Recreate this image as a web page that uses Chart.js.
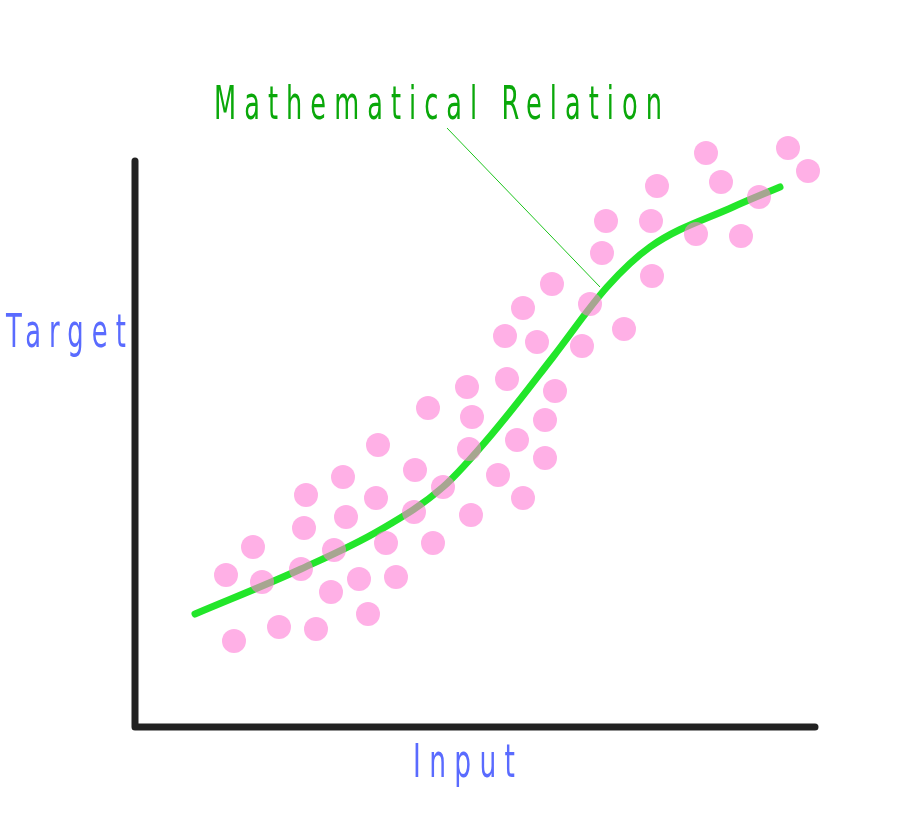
<!DOCTYPE html>
<html>
<head>
<meta charset="utf-8">
<script src="https://cdn.jsdelivr.net/npm/chart.js@4/dist/chart.umd.min.js"></script>
<style>
  html, body { margin: 0; padding: 0; background: #fff; }
  #chart { display: block; }
</style>
</head>
<body>
<canvas id="chart" width="900" height="837"></canvas>
<script>
// scattered samples (input, target)
const inputX = [99, 144, 181, 233, 91, 127, 166, 196, 224, 261, 118, 199, 251, 298,
  169, 211, 279, 336, 171, 208, 241, 280, 308, 243, 334, 337, 293, 332, 372, 420, 410,
  382, 410, 363, 388, 370, 402, 388, 417, 455, 447, 489, 467, 471, 516, 517, 522, 571,
  586, 561, 606, 624, 653, 673];
const targetY = [86, 100, 98, 113, 152, 145, 158, 135, 148, 150, 180, 177, 184, 184,
  199, 210, 215, 212, 232, 250, 229, 257, 240, 282, 278, 310, 319, 340, 348, 336, 307,
  287, 269, 252, 229, 391, 385, 419, 443, 423, 381, 398, 474, 506, 506, 451, 541, 574,
  545, 493, 491, 530, 579, 556];

// fitted relation curve
const curveX = [60, 166, 245, 308, 362, 418, 472, 515, 598, 645];
const curveY = [113, 158, 197, 240, 299, 370, 440, 480, 520, 540];

const axisMax = { x: 680, y: 569 };
const calloutFrom = { x: 312, y: 599 };
const calloutTo = { x: 465, y: 440 };

const toPoints = (xs, ys) => xs.map((x, i) => ({ x: x, y: ys[i] }));

// draw text condensed + letter spaced, stretched to a given width
function fitText(ctx, text, left, right, baseline, color) {
  const spacing = 13;
  ctx.save();
  ctx.font = '46px "Liberation Sans Narrow", "DejaVu Sans Condensed", "Liberation Sans", sans-serif';
  ctx.letterSpacing = spacing + 'px';
  const w = ctx.measureText(text).width - spacing;
  ctx.translate(left, baseline);
  ctx.scale((right - left) / w, 1);
  ctx.fillStyle = color;
  ctx.textBaseline = 'alphabetic';
  ctx.fillText(text, 0, 0);
  ctx.restore();
}

const sketchPlugin = {
  id: 'sketch',
  beforeDatasetsDraw(chart) {
    const { ctx, scales: { x, y } } = chart;
    //axes
    ctx.save();
    ctx.strokeStyle = '#222';
    ctx.lineWidth = 7;
    ctx.lineCap = 'round';
    ctx.lineJoin = 'round';
    ctx.beginPath();
    ctx.moveTo(x.getPixelForValue(0), y.getPixelForValue(axisMax.y - 3));
    ctx.lineTo(x.getPixelForValue(0), y.getPixelForValue(0));
    ctx.lineTo(x.getPixelForValue(axisMax.x), y.getPixelForValue(0));
    ctx.stroke();
    ctx.restore();
  },
  afterDraw(chart) {
    const { ctx, scales: { x, y } } = chart;
    //callout line
    ctx.save();
    ctx.strokeStyle = '#1cc41c';
    ctx.lineWidth = 1;
    ctx.beginPath();
    ctx.moveTo(x.getPixelForValue(calloutFrom.x), y.getPixelForValue(calloutFrom.y));
    ctx.lineTo(x.getPixelForValue(calloutTo.x), y.getPixelForValue(calloutTo.y));
    ctx.stroke();
    ctx.restore();

    //labels
    fitText(ctx, 'Mathematical Relation', 214, 662, 119, '#0aa80a');
    fitText(ctx, 'Target', 6, 126, 347, '#5a6bff');
    fitText(ctx, 'Input', 413, 515, 777, '#5a6bff');
  },
};

new Chart(document.getElementById('chart'), {
  type: 'scatter',
  data: {
    datasets: [
      {
        label: 'Samples',
        data: toPoints(inputX, targetY),
        backgroundColor: 'rgba(255, 123, 213, 0.6)',
        borderWidth: 0,
        pointRadius: 12,
        pointHoverRadius: 12,
        clip: false,
      },
      {
        label: 'Relation',
        data: toPoints(curveX, curveY),
        showLine: true,
        borderColor: '#22e62a',
        borderWidth: 7,
        borderCapStyle: 'round',
        pointRadius: 0,
        cubicInterpolationMode: 'monotone',
        clip: false,
      },
    ],
  },
  options: {
    responsive: false,
    animation: false,
    events: [],
    layout: { padding: { left: 135, right: 85, top: 158, bottom: 110 } },
    scales: {
      x: {
        type: 'linear',
        min: 0,
        max: axisMax.x,
        grid: { display: false },
        border: { display: false },
        ticks: { display: false },
        afterFit(scale) { scale.height = 0; },
      },
      y: {
        type: 'linear',
        min: 0,
        max: axisMax.y,
        grid: { display: false },
        border: { display: false },
        ticks: { display: false },
        afterFit(scale) { scale.width = 0; },
      },
    },
    plugins: {
      legend: { display: false },
      tooltip: { enabled: false },
      title: { display: false },
    },
  },
  plugins: [sketchPlugin],
});
</script>
</body>
</html>
